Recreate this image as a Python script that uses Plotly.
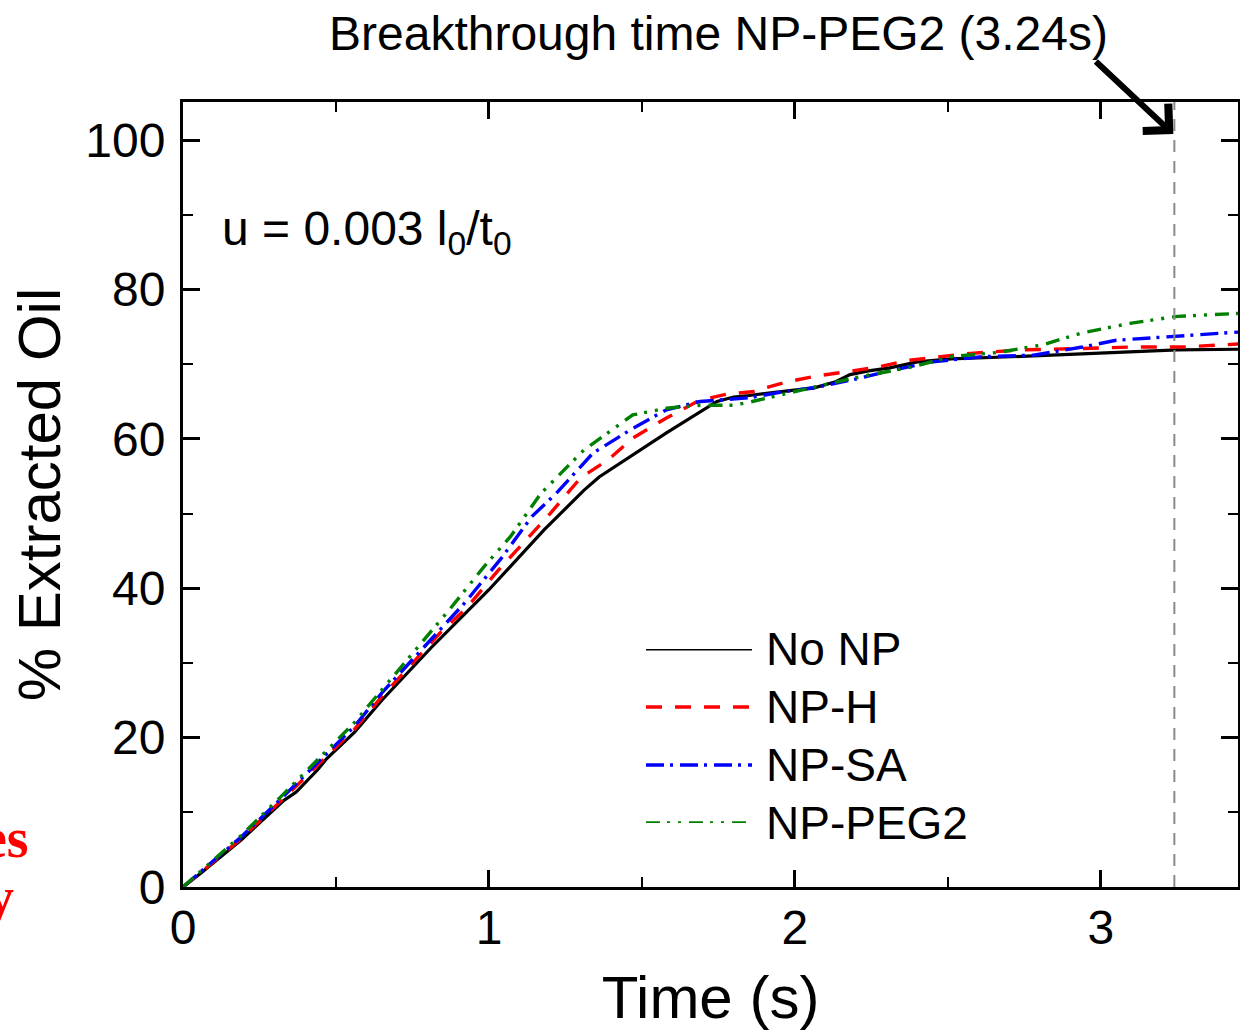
import plotly.graph_objects as go

# Extracted-oil curves (% of initial oil) versus injection time (s)
t_no_np = [0, 0.06, 0.19, 0.33, 0.37, 0.44, 0.47, 0.56, 0.65, 0.81, 1.00, 1.11, 1.18, 1.31,
           1.36, 1.58, 1.745, 1.80, 1.85, 1.99, 2.06, 2.13, 2.18, 2.24, 2.31, 2.40, 2.51,
           2.78, 3.05, 3.25, 3.45]
y_no_np = [0, 1.9, 6.3, 11.6, 12.7, 15.7, 17.2, 20.7, 25.0, 32.0, 39.8, 44.7, 47.8, 53.1,
           54.9, 60.8, 65.0, 65.6, 65.8, 66.5, 66.8, 67.6, 68.6, 69.1, 69.5, 70.3, 70.7,
           71.1, 71.6, 71.9, 72.0]

t_np_h = [0, 0.06, 0.19, 0.33, 0.47, 0.56, 0.65, 0.84, 0.93, 1.03, 1.10, 1.20, 1.30, 1.39,
          1.47, 1.58, 1.69, 1.78, 1.86, 1.97, 2.07, 2.17, 2.27, 2.37, 2.46, 2.56, 2.73,
          2.86, 2.94, 3.10, 3.27, 3.45]
y_np_h = [0, 2.0, 6.5, 11.9, 17.5, 21.1, 25.5, 34.0, 37.5, 42.4, 45.5, 50.0, 54.8, 57.2,
          60.1, 62.8, 65.2, 66.0, 66.3, 67.6, 68.4, 69.0, 69.6, 70.5, 70.9, 71.4, 71.9,
          72.0, 72.1, 72.3, 72.3, 72.7]

t_np_sa = [0, 0.06, 0.19, 0.33, 0.47, 0.56, 0.65, 0.80, 0.92, 1.04, 1.14, 1.22, 1.34, 1.47,
           1.58, 1.69, 1.85, 1.96, 2.07, 2.21, 2.32, 2.45, 2.61, 2.78, 2.94, 3.05, 3.27,
           3.45]
y_np_sa = [0, 2.1, 6.7, 12.2, 17.8, 21.5, 26.0, 32.7, 38.0, 44.0, 49.6, 52.7, 58.1, 61.4,
           63.9, 65.0, 65.5, 66.3, 66.9, 68.1, 69.2, 70.3, 71.0, 71.2, 72.3, 73.2, 73.8,
           74.3]

t_np_peg2 = [0, 0.06, 0.19, 0.33, 0.47, 0.56, 0.65, 0.78, 0.87, 0.98, 1.07, 1.17, 1.31, 1.47,
             1.58, 1.69, 1.80, 1.85, 1.96, 2.07, 2.21, 2.38, 2.51, 2.67, 2.81, 2.94, 3.10,
             3.25, 3.45]
y_np_peg2 = [0, 2.2, 6.9, 12.5, 18.3, 22.0, 26.4, 32.7, 37.1, 42.7, 46.9, 52.7, 58.5, 63.2,
             64.1, 64.5, 64.5, 64.9, 65.9, 67.0, 68.3, 69.6, 71.0, 71.6, 72.6, 74.2, 75.5,
             76.4, 76.8]

series_names = ["No NP", "NP-H", "NP-SA", "NP-PEG2"]
series_t = [t_no_np, t_np_h, t_np_sa, t_np_peg2]
series_y = [y_no_np, y_np_h, y_np_sa, y_np_peg2]
series_colors = ["#000000", "#ff0000", "#0000ff", "#008000"]
series_dash = ["solid", "16px,13px", "18px,6px,3px,7px", "14px,7px,3px,8px,3px,8px"]
series_width = [3.2, 3.4, 3.4, 3.4]

BREAKTHROUGH_T = 3.24
x_ticks = [0, 1, 2, 3]
y_ticks = [0, 20, 40, 60, 80, 100]

FONT = "Liberation Sans, Arial, sans-serif"

fig = go.Figure()

for name, t, y, c, d, w in zip(series_names, series_t, series_y, series_colors,
                               series_dash, series_width):
    fig.add_trace(go.Scatter(x=t, y=y, mode="lines", name=name, showlegend=False,
                             line=dict(color=c, dash=d, width=w)))

# Hand-built legend on its own small axis pair so the line samples can be long
legend_rows = list(range(len(series_names)))
for row, name, c, d, w in zip(legend_rows, series_names, series_colors, series_dash,
                              series_width):
    fig.add_trace(go.Scatter(x=[0, 1], y=[row, row], mode="lines", showlegend=False,
                             xaxis="x2", yaxis="y2", hoverinfo="skip",
                             line=dict(color=c, dash=d, width=w)))
    fig.add_annotation(x=1, y=row, xref="x2", yref="y2", text=name, showarrow=False,
                       xanchor="left", yanchor="middle", xshift=12,
                       font=dict(family=FONT, size=46, color="black"))

# Breakthrough marker
fig.add_shape(type="line", x0=BREAKTHROUGH_T, x1=BREAKTHROUGH_T, y0=0, y1=1,
              xref="x", yref="paper", line=dict(color="#8a8a8a", width=2, dash="12px,9px"))
fig.add_annotation(x=BREAKTHROUGH_T, y=100.8, xref="x", yref="y", text="", showarrow=True,
                   arrowhead=4, arrowsize=1.2, arrowwidth=6, arrowcolor="black",
                   ax=-79, ay=-74, xshift=-1)
fig.add_annotation(x=(327 - 183) / 1055, y=1.087, xref="paper", yref="paper",
                   text=f"Breakthrough time NP-PEG2 ({BREAKTHROUGH_T:.2f}s)",
                   showarrow=False, xanchor="left", yanchor="middle",
                   font=dict(family=FONT, size=48, color="black"))

fig.add_annotation(x=(220 - 183) / 1055, y=0.835, xref="paper", yref="paper",
                   text="u = 0.003 l<sub>0</sub>/t<sub>0</sub>", showarrow=False,
                   xanchor="left", yanchor="middle",
                   font=dict(family=FONT, size=48, color="black"))

# Fragments of neighbouring red caption text at the left edge
red_font = dict(family="Liberation Serif, Times New Roman, serif", size=56, color="#ff0000")
fig.add_annotation(x=(31 - 183) / 1055, y=(887 - 838) / 785, xref="paper", yref="paper",
                   text="<b>es</b>", showarrow=False, xanchor="right", yanchor="middle",
                   font=red_font)
fig.add_annotation(x=(16 - 183) / 1055, y=(887 - 897) / 785, xref="paper", yref="paper",
                   text="<b>y</b>", showarrow=False, xanchor="right", yanchor="middle",
                   font=red_font)

axis_common = dict(showline=True, linewidth=3, linecolor="black", mirror="ticks",
                   ticks="inside", ticklen=17, tickwidth=2.6, tickcolor="black",
                   showgrid=False, zeroline=False,
                   tickfont=dict(family=FONT, size=48, color="black"))

fig.update_layout(
    width=1240, height=1031,
    margin=dict(l=183, r=2, t=102, b=144, autoexpand=False),
    paper_bgcolor="white", plot_bgcolor="white",
    showlegend=False,
    xaxis=dict(range=[0, 3.448], tickvals=x_ticks, ticktext=[str(v) for v in x_ticks],
               minor=dict(dtick=0.5, ticks="inside", ticklen=10, tickwidth=2.4,
                          tickcolor="black", showgrid=False),
               title=dict(text="Time (s)", standoff=26,
                          font=dict(family=FONT, size=60, color="black")),
               ticklabelstandoff=-4, **axis_common),
    yaxis=dict(range=[0, 105.1], tickvals=y_ticks, ticktext=[str(v) for v in y_ticks],
               minor=dict(dtick=10, ticks="inside", ticklen=10, tickwidth=2.4,
                          tickcolor="black", showgrid=False),
               title=dict(text="% Extracted Oil", standoff=6,
                          font=dict(family=FONT, size=60, color="black")),
               ticklabelstandoff=5, **axis_common),
    xaxis2=dict(domain=[(646 - 183) / 1055, (752 - 183) / 1055], range=[0, 1],
                visible=False, anchor="y2"),
    yaxis2=dict(domain=[(887 - 823) / 785, (887 - 649) / 785], range=[3, 0],
                visible=False, anchor="x2"),
)

fig.write_html("out.html")
